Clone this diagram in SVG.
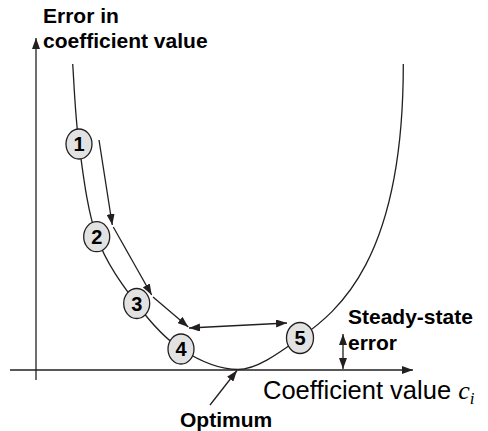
<svg xmlns="http://www.w3.org/2000/svg" width="488" height="431" viewBox="0 0 488 431">
<style>
.ln{fill:none;stroke:#231f20;stroke-width:1.3}
.bd{font-family:"Liberation Sans",Arial,sans-serif;font-weight:bold;font-size:21px;fill:#000}
.rg{font-family:"Liberation Sans",Arial,sans-serif;font-size:25.5px;fill:#000}
.it{font-family:"Liberation Serif","Times New Roman",serif;font-style:italic;fill:#000}
.nd ellipse{fill:#e2e2e2;stroke:#231f20;stroke-width:1.3}
.nd text{font-family:"Liberation Sans",Arial,sans-serif;font-weight:bold;font-size:20px;fill:#000;text-anchor:middle}
</style>
<defs>
<marker id="ah" markerUnits="userSpaceOnUse" markerWidth="12" markerHeight="8" refX="11" refY="4" orient="auto-start-reverse">
<path d="M0,0 L11,4 L0,8 Z" fill="#231f20"/>
</marker>
</defs>
<g id="axes">
<line class="ln" x1="36" y1="380" x2="36" y2="38" marker-end="url(#ah)"/>
<line class="ln" x1="10" y1="370" x2="413" y2="370" marker-end="url(#ah)"/>
</g>
<g id="curve">
<path class="ln" d="M72.7,64 C73.75,77.3 75,115.2 79,144 C83,172.8 87.1,210 96.7,236.7 C106.3,263.4 122.65,285.3 136.7,304 C150.75,322.7 164.1,338.1 181,349 C197.9,359.9 218.2,369.5 238,369.5 C258,369.5 283,350 300,338 C338,311 403.5,260 403.3,64"/>
</g>
<g id="connectors">
<line class="ln" x1="99" y1="140" x2="112.3" y2="225" marker-end="url(#ah)"/>
<line class="ln" x1="113.3" y1="227" x2="151.7" y2="295" marker-end="url(#ah)"/>
<line class="ln" x1="153" y1="297" x2="188.3" y2="327" marker-end="url(#ah)"/>
<line class="ln" x1="189" y1="328" x2="287" y2="323" marker-start="url(#ah)" marker-end="url(#ah)"/>
<line class="ln" x1="343" y1="334" x2="343" y2="369" marker-start="url(#ah)" marker-end="url(#ah)"/>
<line class="ln" x1="210" y1="405" x2="237" y2="370.5" marker-end="url(#ah)"/>
</g>
<g id="n1" class="nd"><ellipse cx="79" cy="144" rx="13" ry="15"/><text x="79" y="151">1</text></g>
<g id="n2" class="nd"><ellipse cx="96.7" cy="236.7" rx="13" ry="15"/><text x="96.7" y="243.7">2</text></g>
<g id="n3" class="nd"><ellipse cx="136.7" cy="303.5" rx="13" ry="15"/><text x="136.7" y="310.5">3</text></g>
<g id="n4" class="nd"><ellipse cx="181" cy="349" rx="13" ry="15"/><text x="181" y="356">4</text></g>
<g id="n5" class="nd"><ellipse cx="300" cy="338" rx="13.5" ry="15.5"/><text x="300" y="345">5</text></g>
<g id="labels">
<text class="bd" x="43" y="23">Error in</text>
<text class="bd" x="43" y="48">coefficient value</text>
<text class="bd" x="348" y="324">Steady-state</text>
<text class="bd" x="348" y="350">error</text>
<text class="bd" x="180" y="427">Optimum</text>
<text class="rg" x="263" y="399">Coefficient value <tspan class="it" font-size="26">c</tspan><tspan class="it" font-size="17" dy="5">i</tspan></text>
</g>
</svg>
